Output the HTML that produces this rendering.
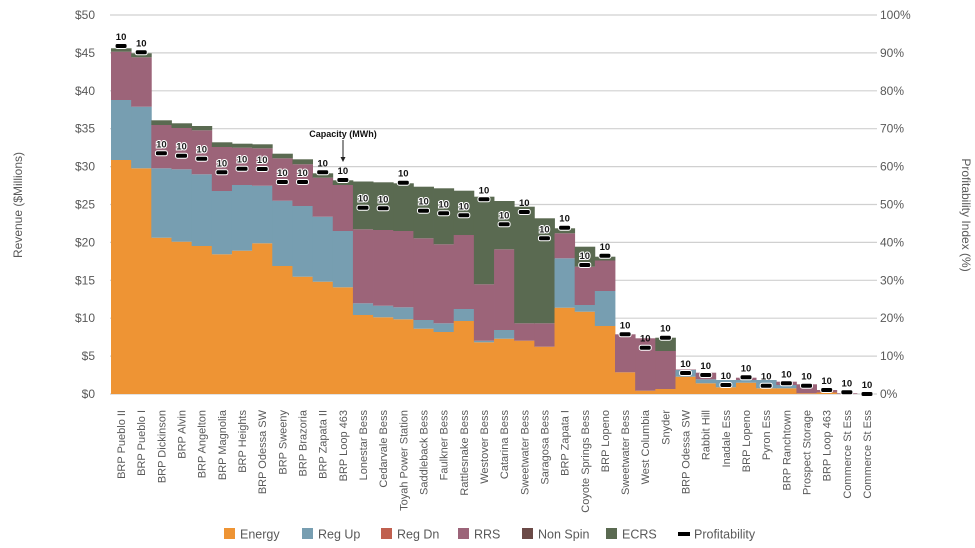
<!DOCTYPE html>
<html><head><meta charset="utf-8"><style>
body{margin:0;background:#fff;}
svg{display:block;font-family:"Liberation Sans",sans-serif;}
</style></head><body>
<svg id="s" width="975" height="548" xmlns="http://www.w3.org/2000/svg">
<g id="grid"></g><g id="bars"></g><g id="ann"></g>
</svg>
<script>
const NS="http://www.w3.org/2000/svg",s=document.getElementById('s');
function el(t,a,p,txt){const e=document.createElementNS(NS,t);for(const k in a)e.setAttribute(k,a[k]);if(txt!=null)e.textContent=txt;(p||s).appendChild(e);return e;}
const g=document.getElementById('grid'),b=document.getElementById('bars'),an=document.getElementById('ann');
for(let i=0;i<=10;i++){const y=394-i*37.9;
 el('line',{x1:110,x2:877,y1:y,y2:y,stroke:'#d0d0d0','stroke-width':1.2},g);
 el('text',{x:95,y:y+4,'text-anchor':'end','font-size':12,fill:'#595959'},g,'$'+(i*5));
 el('text',{x:880,y:y+4,'font-size':12,fill:'#595959'},g,(i*10)+'%');}
el('text',{transform:'translate(22,205) rotate(-90)','text-anchor':'middle','font-size':12,fill:'#595959'},g,'Revenue ($Millions)');
el('text',{transform:'translate(962,215) rotate(90)','text-anchor':'middle','font-size':12,fill:'#595959'},g,'Profitability Index (%)');
const names=["BRP Pueblo II","BRP Pueblo I","BRP Dickinson","BRP Alvin","BRP Angelton","BRP Magnolia","BRP Heights","BRP Odessa SW","BRP Sweeny","BRP Brazoria","BRP Zapata II","BRP Loop 463","Lonestar Bess","Cedarvale Bess","Toyah Power Station","Saddleback Bess","Faulkner Bess","Rattlesnake Bess","Westover Bess","Catarina Bess","Sweetwater Bess","Saragosa Bess","BRP Zapata I","Coyote Springs Bess","BRP Lopeno","Sweetwater Bess","West Columbia","Snyder","BRP Odessa SW","Rabbit Hill","Inadale Ess","BRP Lopeno","Pyron Ess","BRP Ranchtown","Prospect Storage","BRP Loop 463","Commerce St Ess","Commerce St Ess"];
const d=[
[160,100,51.7,48.3,46,0],[168.3,106.7,57.3,53.3,52.3,0],[237.7,168.3,125,120.3,153.3,1],[241.7,169.3,128,123.3,155.7,1],
[246,174.3,130.3,126,158.7,1],[254.3,191,147,142.3,172.3,1],[250.7,185,147.7,143.7,168.7,1],[243.3,185.7,148.3,144.3,169,1],
[266,200.7,158.3,153.7,182,1],[276.7,206,164.3,159.3,182,1],[281.7,216.7,177.7,173.3,172.3,0],[287.3,231,185,180.3,180,0],
[315,303.3,229.3,181.5,207.7,1],[317.3,305.7,230,182.3,208.3,1],[319.3,307.3,231,183.3,182.7,0],[328.7,320,238.3,186.7,210.7,1],
[332,323.3,244.3,188.3,213.3,1],[321,309,235,190.7,215.3,1],[342.3,340.7,284.3,196.7,199.3,0],[338.7,330,249.3,201,224.3,1],
[340.7,340.7,323.3,206.7,212,0],[346.7,346.7,323.3,218.3,238.3,1],[307.7,258.3,233.3,228.3,227.7,0],[311.7,305,266.7,246.7,265,1],
[326,291,260.5,256.7,255.8,0],[372.3,372.3,334.3,334.3,334.3,0],[390.7,390.7,338.3,338.3,347.7,0],[389,389,351,337.7,337.7,0],
[376.7,370,369.5,369.5,373,0],[383.3,379.3,372.7,372.7,375,0],[387.3,380,380,380,385,0],[382.7,380,377.7,377.7,377.3,0],
[388.3,380,380,380,385.7,0],[388.3,385,381.7,381.7,383.3,0],[393.3,393.3,384.3,384.3,385.7,0],[392.5,392.5,390,390,390,0],
[394,394,393.3,393.3,392.3,0],[394,394,394,394,394,0]];
const W=20.16,X0=111,C={e:'#EE9434',u:'#779EB1',r:'#9C6479',c:'#5A6A51'};
d.forEach((v,i)=>{const x=X0+i*W,w=W+0.4;
 const seg=(top,bot,col)=>{if(bot-top>0.2)el('rect',{x:x,y:top,width:w,height:bot-top,fill:col},b);};
 seg(v[0],394,C.e);seg(v[1],v[0],C.u);seg(v[2],v[1],C.r);seg(v[3],v[2],C.c);
 const cx=x+W/2;
 el('rect',{x:cx-6,y:v[4]-2.5,width:12,height:5,rx:2,fill:'#000',stroke:'#fff','stroke-width':1},an);
 el('text',{x:cx,y:v[4]-6,'text-anchor':'middle','font-size':9.5,'font-weight':'bold',fill:v[5]?'#222':'#111',stroke:'#fff','stroke-width':v[5]?2:0,'paint-order':'stroke'},an,'10');
 el('text',{transform:`translate(${cx+4},410) rotate(-90)`,'text-anchor':'end','font-size':11,fill:'#595959'},an,names[i]);
});
el('text',{x:343,y:137,'text-anchor':'middle','font-size':9,'font-weight':'bold',fill:'#111'},an,'Capacity (MWh)');
el('line',{x1:343,x2:343,y1:140,y2:160,stroke:'#222','stroke-width':1},an);
el('path',{d:'M340.5,157 L345.5,157 L343,162 Z',fill:'#222'},an);
const leg=[['Energy',C.e,224],['Reg Up',C.u,302],['Reg Dn','#C0604F',381],['RRS',C.r,458],['Non Spin','#6B4A47',522],['ECRS',C.c,606],['Profitability','#000',678]];
leg.forEach(l=>{
 if(l[0]=='Profitability')el('rect',{x:l[2],y:532,width:12,height:4,fill:'#000'},an);
 else el('rect',{x:l[2],y:528,width:11,height:11,fill:l[1]},an);
 el('text',{x:l[2]+16,y:538.5,'font-size':12.5,fill:'#595959'},an,l[0]);});
</script>
</body></html>
